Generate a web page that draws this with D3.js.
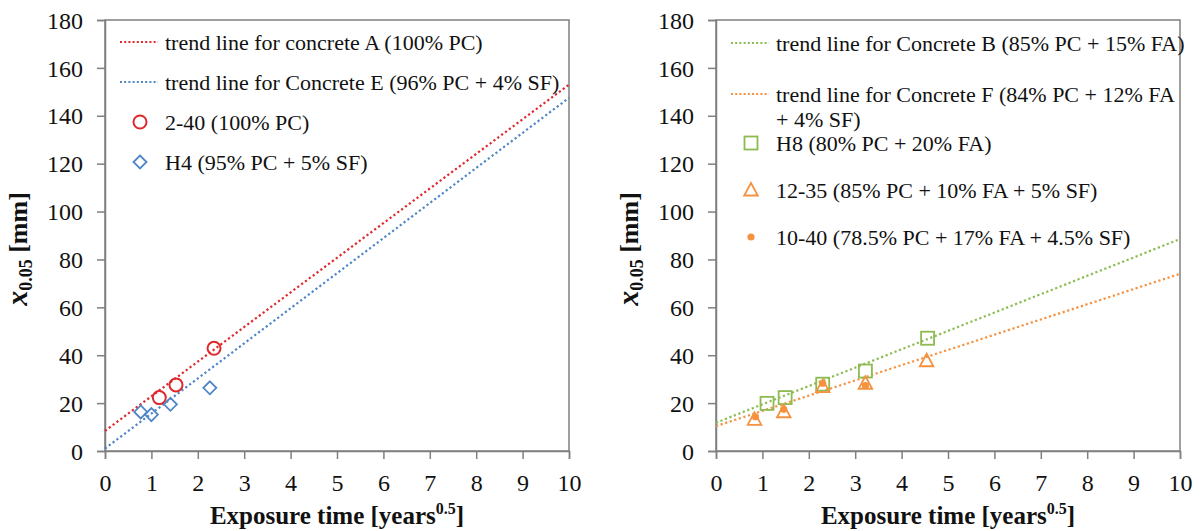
<!DOCTYPE html>
<html>
<head>
<meta charset="utf-8">
<script src="https://cdn.jsdelivr.net/npm/d3@7"></script>
<style>
  body { margin: 0; background: #fff; }
  svg text { font-family: "Liberation Serif", "Times New Roman", Times, serif; fill: #111; }
</style>
</head>
<body>
<div class="chart"></div>
<script>
// Data
const xTicks = d3.range(0, 11);
const yTicks = d3.range(0, 181, 20);

// left panel
const trendA = [[0, 8.4], [10, 153]];
const trendE = [[0, 1], [10, 147.5]];
const mix240 = [[1.17, 22.3], [1.53, 27.6], [2.35, 42.9]];
const mixH4 = [[0.77, 16.3], [1.0, 15.2], [1.41, 19.5], [2.26, 26.4]];

// right panel
const trendB = [[0, 11.8], [10, 88.5]];
const trendF = [[0, 10.4], [10, 74]];
const mixH8 = [[1.1, 19.9], [1.49, 22.3], [2.3, 27.9], [3.22, 33.4], [4.56, 47.1]];
const mix1235 = [[0.83, 13.2], [1.46, 16.4], [2.3, 26.9], [3.22, 28.3], [4.54, 37.7]];
const mix1040 = [[0.85, 14.3], [1.46, 17.4], [2.3, 28.3], [3.22, 27.3]];

const red = "#e0282c", blue = "#4f86c6", green = "#8dbb52", orange = "#f59240";
const serif = "'Liberation Serif', 'Times New Roman', Times, serif";

// Dimensions
const W = 1201, H = 531;
const plotTop = 20, plotBottom = 451;

const svg = d3.select(".chart").append("svg")
    .attr("width", W)
    .attr("height", H)
    .attr("font-family", serif);

const panels = [
  {
    left: 105, right: 569,
    lines: [
      {data: trendA, color: red},
      {data: trendE, color: blue}
    ],
    points: [
      {data: mix240, color: red, shape: "circle"},
      {data: mixH4, color: blue, shape: "diamond"}
    ],
    legend: [
      {type: "line", color: red, y: 42, text: ["trend line for concrete A (100% PC)"]},
      {type: "line", color: blue, y: 82, text: ["trend line for Concrete E (96% PC + 4% SF)"]},
      {type: "circle", color: red, y: 122, text: ["2-40 (100% PC)"]},
      {type: "diamond", color: blue, y: 162, text: ["H4 (95% PC + 5% SF)"]}
    ]
  },
  {
    left: 716, right: 1180,
    lines: [
      {data: trendB, color: green},
      {data: trendF, color: orange}
    ],
    points: [
      {data: mixH8, color: green, shape: "square"},
      {data: mix1235, color: orange, shape: "triangle"},
      {data: mix1040, color: orange, shape: "dot"}
    ],
    legend: [
      {type: "line", color: green, y: 43, text: ["trend line for Concrete B (85% PC + 15% FA)"]},
      {type: "line", color: orange, y: 94, text: ["trend line for Concrete F (84% PC + 12% FA", "+ 4% SF)"]},
      {type: "square", color: green, y: 143, text: ["H8 (80% PC + 20% FA)"]},
      {type: "triangle", color: orange, y: 190, text: ["12-35 (85% PC + 10% FA + 5% SF)"]},
      {type: "dot", color: orange, y: 237, text: ["10-40 (78.5% PC + 17% FA + 4.5% SF)"]}
    ]
  }
];

function drawMarker(sel, shape, color) {
  if (shape === "circle") {
    sel.append("circle").attr("r", 6.5)
        .attr("fill", "none").attr("stroke", color).attr("stroke-width", 2);
  } else if (shape === "diamond") {
    sel.append("path").attr("d", "M0,-6.5L6.5,0L0,6.5L-6.5,0Z")
        .attr("fill", "none").attr("stroke", color).attr("stroke-width", 1.8);
  } else if (shape === "square") {
    sel.append("rect").attr("x", -6.5).attr("y", -6.5).attr("width", 13).attr("height", 13)
        .attr("fill", "none").attr("stroke", color).attr("stroke-width", 1.8);
  } else if (shape === "triangle") {
    sel.append("path").attr("d", "M0,-7L6.8,5.5L-6.8,5.5Z")
        .attr("fill", "none").attr("stroke", color).attr("stroke-width", 1.8);
  } else if (shape === "dot") {
    sel.append("circle").attr("r", 3.6).attr("fill", color);
  }
}

panels.forEach(p => {
  const x = d3.scaleLinear().domain([0, 10]).range([p.left, p.right]);
  const y = d3.scaleLinear().domain([0, 180]).range([plotBottom, plotTop]);
  const g = svg.append("g");

  // frame
  g.append("rect")
      .attr("x", p.left).attr("y", plotTop)
      .attr("width", p.right - p.left).attr("height", plotBottom - plotTop)
      .attr("fill", "none").attr("stroke", "#7f7f7f").attr("stroke-width", 1.5);

  // axes
  const xAxis = g.append("g")
      .attr("transform", "translate(0," + plotBottom + ")")
      .call(d3.axisBottom(x).tickValues(xTicks).tickSize(8).tickPadding(15).tickFormat(d3.format("d")));
  const yAxis = g.append("g")
      .attr("transform", "translate(" + p.left + ",0)")
      .call(d3.axisLeft(y).tickValues(yTicks).tickSize(8).tickPadding(14).tickFormat(d3.format("d")));
  [xAxis, yAxis].forEach(a => {
    a.attr("font-family", serif);
    a.select(".domain").attr("stroke", "#7f7f7f").attr("stroke-width", 1.5);
    a.selectAll(".tick line").attr("stroke", "#7f7f7f").attr("stroke-width", 1.5);
    a.selectAll(".tick text").style("font-size", "24px").attr("fill", "#111");
  });
  yAxis.selectAll(".tick text").attr("dy", "0.34em");

  // axis titles
  const xt = g.append("text")
      .attr("x", (p.left + p.right) / 2).attr("y", 524)
      .attr("text-anchor", "middle")
      .style("font-size", "25px").style("font-weight", "bold");
  xt.append("tspan").text("Exposure time [years");
  xt.append("tspan").text("0.5").style("font-size", "16px").attr("dy", "-10");
  xt.append("tspan").text("]").attr("dy", "10");

  const yt = g.append("text")
      .attr("transform", "translate(" + (p.left - 78) + ",249) rotate(-90)")
      .attr("text-anchor", "middle")
      .style("font-size", "26px").style("font-weight", "bold");
  yt.append("tspan").text("x").style("font-style", "italic").style("font-size", "30px");
  yt.append("tspan").text("0.05").style("font-size", "18px").attr("dy", "5");
  yt.append("tspan").text(" [mm]").attr("dy", "-5");

  // trend lines
  const line = d3.line().x(d => x(d[0])).y(d => y(d[1]));
  p.lines.forEach(l => {
    g.append("path")
        .attr("d", line(l.data))
        .attr("fill", "none")
        .attr("stroke", l.color)
        .attr("stroke-width", 2.2)
        .attr("stroke-dasharray", "2.2,2.6");
  });

  // points
  p.points.forEach(s => {
    g.selectAll(null)
        .data(s.data)
      .enter().append("g")
        .attr("transform", d => "translate(" + [x(d[0]), y(d[1])] + ")")
        .each(function() { drawMarker(d3.select(this), s.shape, s.color); });
  });

  // legend
  const lx = p.left + 15;
  p.legend.forEach(item => {
    const row = g.append("g").attr("transform", "translate(" + [lx, item.y] + ")");
    if (item.type === "line") {
      row.append("line").attr("x1", 0).attr("x2", 38)
          .attr("stroke", item.color).attr("stroke-width", 2)
          .attr("stroke-dasharray", "2,2.2");
    } else {
      const m = row.append("g").attr("transform", "translate(20,0)");
      drawMarker(m, item.type, item.color);
    }
    item.text.forEach((t, i) => {
      row.append("text")
          .attr("x", 45).attr("y", i * 25)
          .attr("dy", "0.35em")
          .style("font-size", "22px")
          .text(t);
    });
  });
});
</script>
</body>
</html>
